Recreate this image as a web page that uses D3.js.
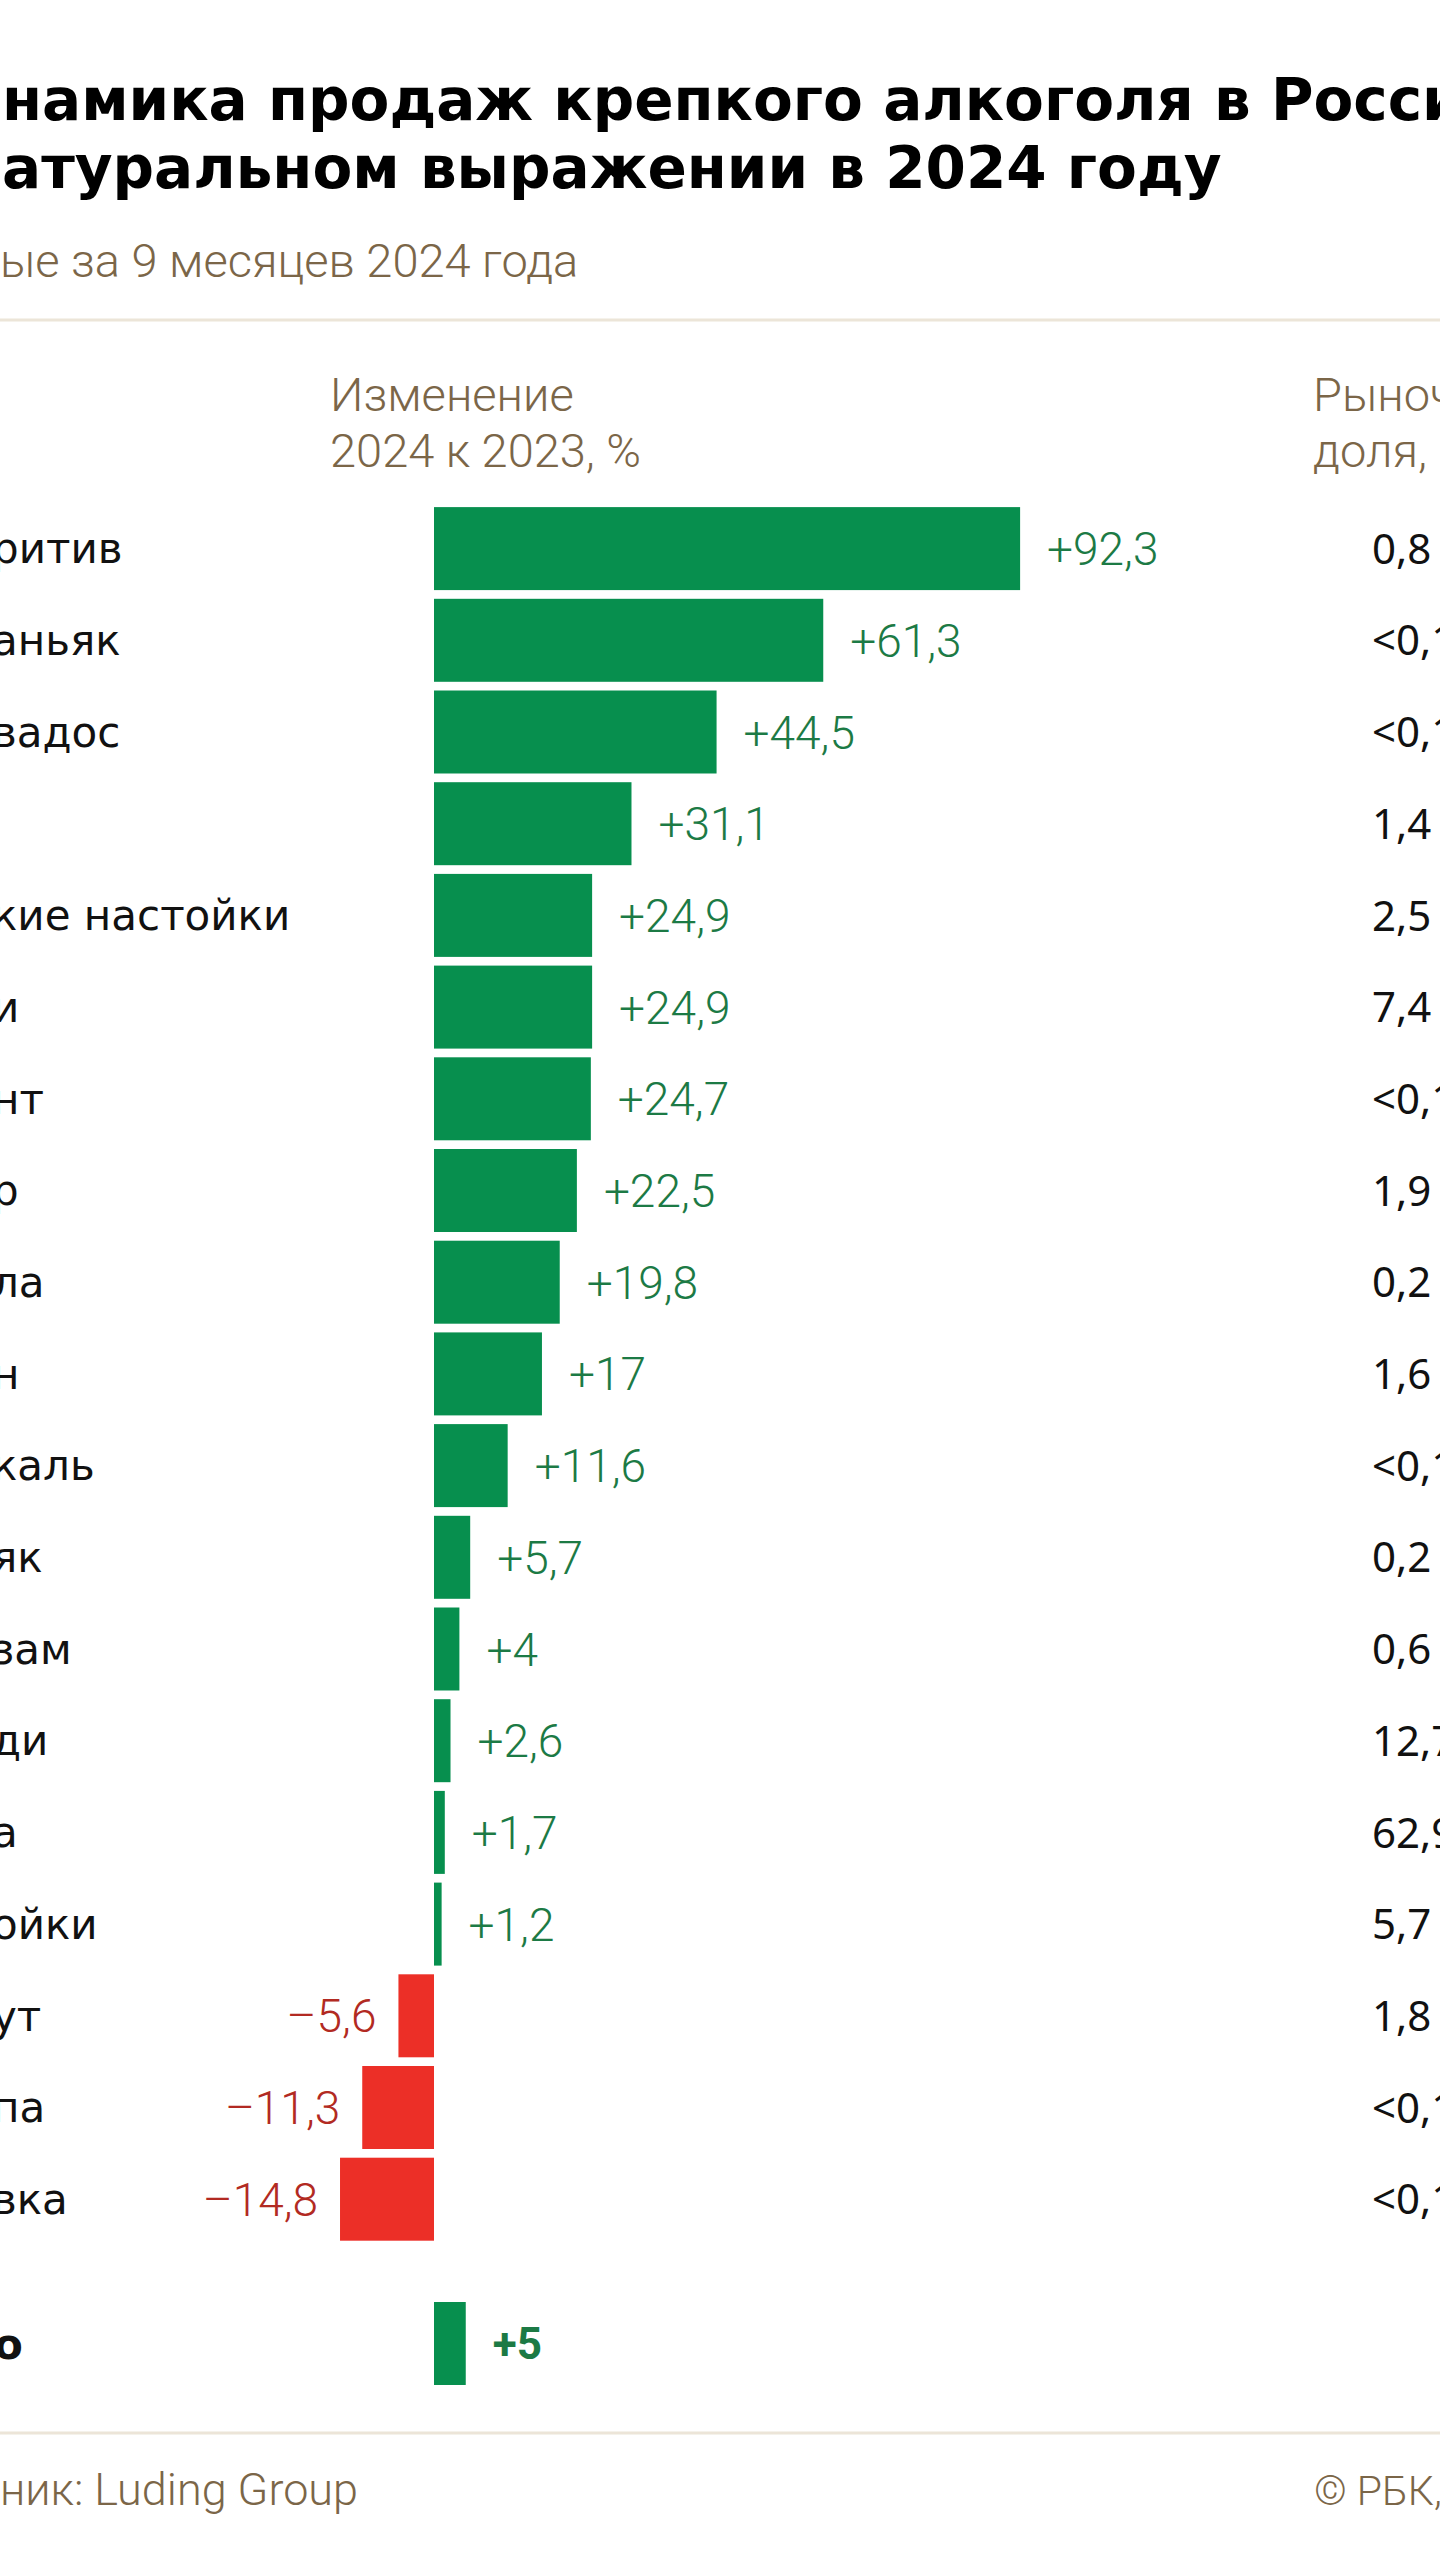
<!DOCTYPE html>
<html>
<head>
<meta charset="utf-8">
<script src="https://cdn.jsdelivr.net/npm/d3@7"></script>
<style>
  html, body { margin: 0; padding: 0; background: #ffffff; }
  svg { display: block; }
</style>
</head>
<body>
<svg id="chart" width="1440" height="2560"></svg>
<script>
// ---- data (as visible in the cropped reference) ----
const categories = ["ритив", "аньяк", "вадос", "", "кие настойки", "и", "нт", "р", "ла", "н",
                    "каль", "як", "зам", "ди", "а", "ойки", "ут", "па", "вка"];
const changeValues = [92.3, 61.3, 44.5, 31.1, 24.9, 24.9, 24.7, 22.5, 19.8, 17,
                      11.6, 5.7, 4, 2.6, 1.7, 1.2, -5.6, -11.3, -14.8];
const shareLabels = ["0,8", "<0,1", "<0,1", "1,4", "2,5", "7,4", "<0,1", "1,9", "0,2", "1,6",
                     "<0,1", "0,2", "0,6", "12,7", "62,9", "5,7", "1,8", "<0,1", "<0,1"];
const totalLabel = "о";
const totalValue = 5;
const titleLines = ["Динамика продаж крепкого алкоголя в России", "в натуральном выражении в 2024 году"];
const titleHidden = ["Ди", "в н"];
const subtitle = "Данные за 9 месяцев 2024 года";
const subtitleHidden = "Данн";
const headerChange = ["Изменение", "2024 к 2023, %"];
const headerShare = ["Рыночная", "доля, %"];
const sourceText = "Источник: Luding Group";
const sourceHidden = "Источ";
const copyright = "© РБК, 2024";

// ---- helpers ----
const fmt = v => (v > 0 ? "+" : v < 0 ? "\u2013" : "") + String(Math.abs(v)).replace(".", ",");

const svg = d3.select("#chart");
const W = 1440;

const GREEN = "#078f4e", RED = "#ec2f27";
const GREEN_TXT = "#1c7a45", RED_TXT = "#b22a22";
const BROWN = "#7b6648";
const LINE = "#ece5d8";

const x = d3.scaleLinear().domain([-20, 100]).range([434 - 20 * 6.35, 434 + 100 * 6.35]);
const rowStep = 91.7;
const y = d3.scaleBand()
  .domain(d3.range(categories.length))
  .range([502.75, 502.75 + categories.length * rowStep])
  .paddingInner(0.095).paddingOuter(0.0475);

function applyStyle(sel, style) { Object.entries(style).forEach(([k, v]) => sel.style(k, v)); return sel; }
// measure helper to position texts whose beginning is cropped in the reference
function widthOf(str, style) {
  const t = applyStyle(svg.append("text").attr("x", -9999).attr("y", -9999).text(str), style);
  const w = t.node().getComputedTextLength();
  t.remove();
  return w;
}

// ---- title ----
const titleStyle = { "font-family": "'DejaVu Sans', sans-serif", "font-weight": "700", "font-size": "58px" };
titleLines.forEach((line, i) => {
  const off = widthOf(titleHidden[i], titleStyle);
  applyStyle(svg.append("text").attr("x", 2 - off).attr("y", 120 + i * 68).text(line).attr("fill", "#000"), titleStyle);
});

// ---- subtitle ----
const lightStyle = { "font-family": "Roboto, sans-serif", "font-weight": "300", "font-size": "47px" };
{
  const off = widthOf(subtitleHidden, lightStyle);
  applyStyle(svg.append("text").attr("x", 0 - off).attr("y", 277).text(subtitle).attr("fill", BROWN), lightStyle);
}

// separators
svg.append("line").attr("x1", 0).attr("x2", W).attr("y1", 320).attr("y2", 320)
  .attr("stroke", LINE).attr("stroke-width", 3);
svg.append("line").attr("x1", 0).attr("x2", W).attr("y1", 2433).attr("y2", 2433)
  .attr("stroke", LINE).attr("stroke-width", 3);

// ---- column headers ----
headerChange.forEach((s, i) => {
  applyStyle(svg.append("text").attr("x", 330).attr("y", 411 + i * 56).text(s).attr("fill", BROWN), lightStyle);
});
headerShare.forEach((s, i) => {
  applyStyle(svg.append("text").attr("x", 1313).attr("y", 411 + i * 56).text(s).attr("fill", BROWN), lightStyle);
});

// ---- rows ----
const rows = categories.map((c, i) => ({ i, label: c, value: changeValues[i], share: shareLabels[i] }));
const labelFont = "'DejaVu Sans', sans-serif";

const g = svg.append("g");

g.selectAll("rect.bar").data(rows).join("rect")
  .attr("class", "bar")
  .attr("x", d => x(Math.min(0, d.value)))
  .attr("width", d => Math.abs(x(d.value) - x(0)))
  .attr("y", d => y(d.i))
  .attr("height", y.bandwidth())
  .attr("fill", d => d.value >= 0 ? GREEN : RED);

g.selectAll("text.cat").data(rows).join("text")
  .attr("class", "cat")
  .attr("x", -8)
  .attr("y", d => y(d.i) + y.bandwidth() / 2)
  .attr("dy", "0.35em")
  .style("font-family", labelFont)
  .style("font-size", "42px")
  .attr("fill", "#111")
  .text(d => d.label);

g.selectAll("text.val").data(rows).join("text")
  .attr("class", "val")
  .attr("x", d => d.value >= 0 ? x(d.value) + 27 : x(d.value) - 22)
  .attr("text-anchor", d => d.value >= 0 ? "start" : "end")
  .attr("y", d => y(d.i) + y.bandwidth() / 2)
  .attr("dy", "0.36em")
  .style("font-family", "Roboto, sans-serif")
  .style("font-weight", "300")
  .style("font-size", "46px")
  .attr("fill", d => d.value >= 0 ? GREEN_TXT : RED_TXT)
  .text(d => fmt(d.value));

g.selectAll("text.share").data(rows).join("text")
  .attr("class", "share")
  .attr("x", 1372)
  .attr("y", d => y(d.i) + y.bandwidth() / 2)
  .attr("dy", "0.36em")
  .style("font-family", "'Noto Sans', sans-serif")
  .style("font-size", "42px")
  .attr("fill", "#111")
  .text(d => d.share);

// ---- total row ----
const totalY = 2302, totalH = y.bandwidth();
svg.append("rect")
  .attr("x", x(0)).attr("y", totalY)
  .attr("width", x(totalValue) - x(0)).attr("height", totalH)
  .attr("fill", GREEN);
svg.append("text").attr("x", -6).attr("y", totalY + totalH / 2).attr("dy", "0.36em")
  .style("font-family", labelFont).style("font-weight", "700").style("font-size", "42px")
  .attr("fill", "#111").text(totalLabel);
svg.append("text").attr("x", x(totalValue) + 27).attr("y", totalY + totalH / 2).attr("dy", "0.36em")
  .style("font-family", "Roboto, sans-serif").style("font-weight", "700").style("font-size", "44px")
  .attr("fill", GREEN_TXT).text(fmt(totalValue));

// ---- footer ----
const footStyle = { "font-family": "Roboto, sans-serif", "font-weight": "300", "font-size": "45px" };
{
  const off = widthOf(sourceHidden, footStyle);
  applyStyle(svg.append("text").attr("x", 0 - off).attr("y", 2505).text(sourceText).attr("fill", BROWN), footStyle);
  applyStyle(svg.append("text").attr("x", 1314).attr("y", 2505).text(copyright).attr("fill", BROWN), footStyle)
    .style("font-size", "41px");
}
</script>
</body>
</html>
